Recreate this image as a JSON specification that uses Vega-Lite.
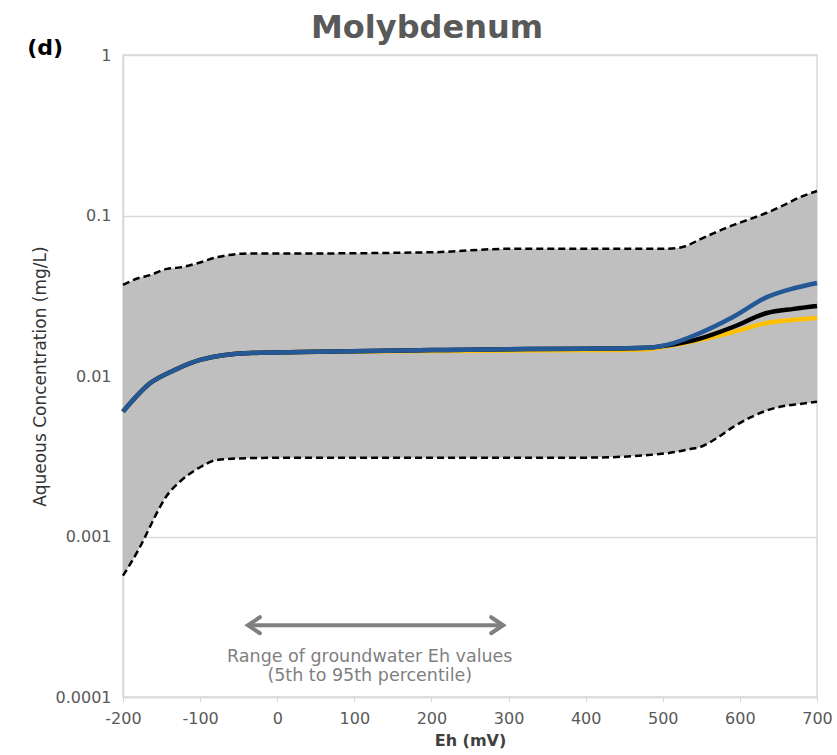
{
  "$schema": "https://vega.github.io/schema/vega-lite/v6.json",
  "width": 694,
  "height": 642,
  "autosize": "none",
  "padding": {"left": 123, "top": 55, "right": 20, "bottom": 58},
  "background": "white",
  "title": {"text": "Molybdenum", "font": "DejaVu Sans", "fontSize": 32, "fontWeight": "bold", "color": "#595959", "anchor": "middle", "dx": -43, "offset": -8},
  "config": {
    "view": {"stroke": "#d9d9d9", "strokeWidth": 1.5},
    "axis": {"gridColor": "#d9d9d9", "gridWidth": 1.5, "domainColor": "#d9d9d9", "domainWidth": 1.5, "tickColor": "#d9d9d9"}
  },
  "datasets": {
    "band": [
      {"x": -200, "lo": 0.00057, "hi": 0.037},
      {"x": -178, "lo": 0.00086, "hi": 0.041},
      {"x": -165, "lo": 0.00115, "hi": 0.0425},
      {"x": -152, "lo": 0.00153, "hi": 0.045},
      {"x": -143, "lo": 0.0018, "hi": 0.0465},
      {"x": -126, "lo": 0.0022, "hi": 0.0475},
      {"x": -100, "lo": 0.0027, "hi": 0.051},
      {"x": -78, "lo": 0.0030, "hi": 0.055},
      {"x": -35, "lo": 0.00308, "hi": 0.058},
      {"x": 30, "lo": 0.0031, "hi": 0.058},
      {"x": 200, "lo": 0.0031, "hi": 0.059},
      {"x": 300, "lo": 0.0031, "hi": 0.062},
      {"x": 400, "lo": 0.0031, "hi": 0.062},
      {"x": 505, "lo": 0.0033, "hi": 0.062},
      {"x": 522, "lo": 0.0034, "hi": 0.063},
      {"x": 535, "lo": 0.0035, "hi": 0.066},
      {"x": 548, "lo": 0.0036, "hi": 0.071},
      {"x": 570, "lo": 0.0041, "hi": 0.079},
      {"x": 591, "lo": 0.0048, "hi": 0.087},
      {"x": 613, "lo": 0.0055, "hi": 0.095},
      {"x": 635, "lo": 0.0061, "hi": 0.104},
      {"x": 657, "lo": 0.0065, "hi": 0.116},
      {"x": 678, "lo": 0.0067, "hi": 0.13},
      {"x": 700, "lo": 0.0069, "hi": 0.142}
    ],
    "median": [
      {"series": "yellow", "x": -200, "value": 0.006},
      {"series": "yellow", "x": -165, "value": 0.009},
      {"series": "yellow", "x": -133, "value": 0.0109},
      {"series": "yellow", "x": -100, "value": 0.0126},
      {"series": "yellow", "x": -35, "value": 0.0139},
      {"series": "yellow", "x": 30, "value": 0.0141},
      {"series": "yellow", "x": 200, "value": 0.0143},
      {"series": "yellow", "x": 300, "value": 0.0144},
      {"series": "yellow", "x": 400, "value": 0.0145},
      {"series": "yellow", "x": 480, "value": 0.0147},
      {"series": "yellow", "x": 505, "value": 0.0153},
      {"series": "yellow", "x": 548, "value": 0.0168},
      {"series": "yellow", "x": 591, "value": 0.0188},
      {"series": "yellow", "x": 635, "value": 0.0214},
      {"series": "yellow", "x": 670, "value": 0.0224},
      {"series": "yellow", "x": 700, "value": 0.023},
      {"series": "black", "x": -200, "value": 0.006},
      {"series": "black", "x": -165, "value": 0.009},
      {"series": "black", "x": -133, "value": 0.0109},
      {"series": "black", "x": -100, "value": 0.0126},
      {"series": "black", "x": -35, "value": 0.0139},
      {"series": "black", "x": 30, "value": 0.0141},
      {"series": "black", "x": 200, "value": 0.0145},
      {"series": "black", "x": 300, "value": 0.0147},
      {"series": "black", "x": 400, "value": 0.0148},
      {"series": "black", "x": 480, "value": 0.015},
      {"series": "black", "x": 505, "value": 0.0155},
      {"series": "black", "x": 548, "value": 0.0171},
      {"series": "black", "x": 591, "value": 0.0202},
      {"series": "black", "x": 635, "value": 0.0247},
      {"series": "black", "x": 670, "value": 0.0262},
      {"series": "black", "x": 700, "value": 0.0273},
      {"series": "blue", "x": -200, "value": 0.006},
      {"series": "blue", "x": -165, "value": 0.009},
      {"series": "blue", "x": -133, "value": 0.0109},
      {"series": "blue", "x": -100, "value": 0.0126},
      {"series": "blue", "x": -35, "value": 0.0139},
      {"series": "blue", "x": 30, "value": 0.0141},
      {"series": "blue", "x": 200, "value": 0.0145},
      {"series": "blue", "x": 300, "value": 0.0147},
      {"series": "blue", "x": 400, "value": 0.0148},
      {"series": "blue", "x": 480, "value": 0.015},
      {"series": "blue", "x": 505, "value": 0.0156},
      {"series": "blue", "x": 548, "value": 0.0185},
      {"series": "blue", "x": 591, "value": 0.0233},
      {"series": "blue", "x": 635, "value": 0.031},
      {"series": "blue", "x": 670, "value": 0.0352},
      {"series": "blue", "x": 700, "value": 0.038}
    ],
    "ref": [{"name": "MCL", "value": 0.1}],
    "arrow": [{"x1": -38, "x2": 293, "y": 0.00028}],
    "heads": [
      {"x": -38, "y": 0.00028, "dir": "left"},
      {"x": 293, "y": 0.00028, "dir": "right"}
    ],
    "notes": [
      {"x": 120, "y": 0.000177, "label": "Range of groundwater Eh values"},
      {"x": 120, "y": 0.000135, "label": "(5th to 95th percentile)"}
    ],
    "panel": [{"x": -301, "y": 1.106, "label": "(d)"}]
  },
  "encoding": {
    "x": {
      "field": "x", "type": "quantitative", "title": "Eh (mV)",
      "scale": {"domain": [-200, 700], "nice": false, "zero": false},
      "axis": {"values": [-200, -100, 0, 100, 200, 300, 400, 500, 600, 700], "labelExpr": "datum.value + ''", "labelFlush": false, "grid": false, "tickSize": 5, "labelFont": "DejaVu Sans", "labelFontSize": 16, "labelColor": "#595959", "labelPadding": 8, "titleFont": "DejaVu Sans", "titleFontSize": 16, "titleFontWeight": "bold", "titleColor": "#404040", "titlePadding": 6}
    }
  },
  "layer": [
    {
      "data": {"name": "band"},
      "mark": {"type": "area", "color": "#bfbfbf", "interpolate": "monotone"},
      "encoding": {
        "y": {"field": "lo", "type": "quantitative", "title": "Aqueous Concentration (mg/L)",
          "scale": {"type": "log", "domain": [0.0001, 1], "nice": false},
          "axis": {"values": [0.0001, 0.001, 0.01, 0.1, 1], "format": "~g", "grid": true, "ticks": false, "labelFont": "DejaVu Sans", "labelFontSize": 16, "labelColor": "#595959", "labelPadding": 12, "titleFont": "DejaVu Sans", "titleFontSize": 17, "titleFontWeight": "normal", "titleColor": "#333333", "titlePadding": 6}},
        "y2": {"field": "hi"}
      }
    },
    {
      "data": {"name": "band"},
      "mark": {"type": "line", "color": "black", "strokeWidth": 2.5, "strokeDash": [7, 4], "interpolate": "monotone"},
      "encoding": {"y": {"field": "hi", "type": "quantitative", "title": "Aqueous Concentration (mg/L)"}}
    },
    {
      "data": {"name": "band"},
      "mark": {"type": "line", "color": "black", "strokeWidth": 2.5, "strokeDash": [7, 4], "interpolate": "monotone"},
      "encoding": {"y": {"field": "lo", "type": "quantitative", "title": "Aqueous Concentration (mg/L)"}}
    },
    {
      "data": {"name": "ref"},
      "mark": {"type": "rule", "color": "#d60000", "strokeWidth": 4},
      "encoding": {"y": {"field": "value", "type": "quantitative", "title": "Aqueous Concentration (mg/L)"}}
    },
    {
      "data": {"name": "median"},
      "transform": [{"filter": "datum.series === 'yellow'"}],
      "mark": {"type": "line", "color": "#ffc000", "strokeWidth": 4.5, "interpolate": "monotone"},
      "encoding": {"y": {"field": "value", "type": "quantitative", "title": "Aqueous Concentration (mg/L)"}}
    },
    {
      "data": {"name": "median"},
      "transform": [{"filter": "datum.series === 'black'"}],
      "mark": {"type": "line", "color": "#000000", "strokeWidth": 4.5, "interpolate": "monotone"},
      "encoding": {"y": {"field": "value", "type": "quantitative", "title": "Aqueous Concentration (mg/L)"}}
    },
    {
      "data": {"name": "median"},
      "transform": [{"filter": "datum.series === 'blue'"}],
      "mark": {"type": "line", "color": "#255896", "strokeWidth": 4.5, "interpolate": "monotone"},
      "encoding": {"y": {"field": "value", "type": "quantitative", "title": "Aqueous Concentration (mg/L)"}}
    },
    {
      "data": {"name": "arrow"},
      "mark": {"type": "rule", "color": "#808080", "strokeWidth": 4},
      "encoding": {
        "x": {"field": "x1", "type": "quantitative", "title": "Eh (mV)"},
        "x2": {"field": "x2"},
        "y": {"field": "y", "type": "quantitative", "title": "Aqueous Concentration (mg/L)"}
      }
    },
    {
      "data": {"name": "heads"},
      "transform": [{"filter": "datum.dir === 'left'"}],
      "mark": {"type": "point", "shape": "M1.5,-1L0,0L1.5,1", "size": 256, "filled": false, "stroke": "#808080", "strokeWidth": 4, "strokeCap": "round", "strokeJoin": "miter", "opacity": 1},
      "encoding": {"y": {"field": "y", "type": "quantitative", "title": "Aqueous Concentration (mg/L)"}}
    },
    {
      "data": {"name": "heads"},
      "transform": [{"filter": "datum.dir === 'right'"}],
      "mark": {"type": "point", "shape": "M-1.5,-1L0,0L-1.5,1", "size": 256, "filled": false, "stroke": "#808080", "strokeWidth": 4, "strokeCap": "round", "strokeJoin": "miter", "opacity": 1},
      "encoding": {"y": {"field": "y", "type": "quantitative", "title": "Aqueous Concentration (mg/L)"}}
    },
    {
      "data": {"name": "notes"},
      "mark": {"type": "text", "font": "DejaVu Sans", "fontSize": 17.5, "color": "#7f7f7f", "align": "center", "baseline": "middle"},
      "encoding": {
        "y": {"field": "y", "type": "quantitative", "title": "Aqueous Concentration (mg/L)"},
        "text": {"field": "label"}
      }
    },
    {
      "data": {"name": "panel"},
      "mark": {"type": "text", "font": "DejaVu Sans", "fontSize": 22, "fontWeight": "bold", "color": "#000000", "align": "center", "baseline": "middle", "clip": false},
      "encoding": {
        "y": {"field": "y", "type": "quantitative", "title": "Aqueous Concentration (mg/L)"},
        "text": {"field": "label"}
      }
    }
  ]
}
